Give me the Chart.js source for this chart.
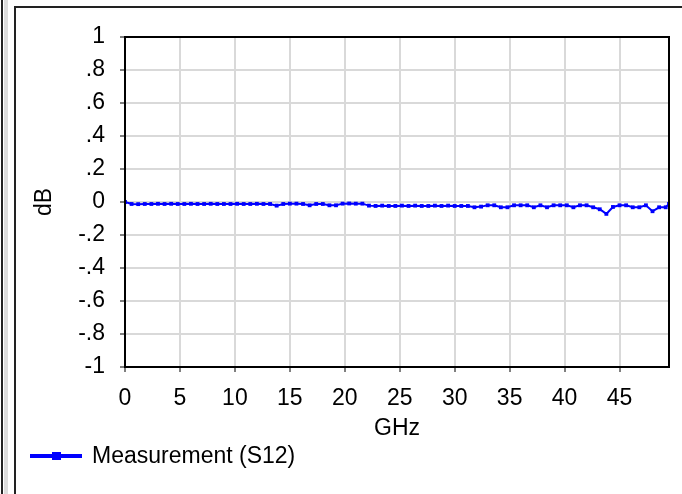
<!DOCTYPE html>
<html>
<head>
<meta charset="utf-8">
<script src="https://cdn.jsdelivr.net/npm/chart.js@4/dist/chart.umd.min.js"></script>
<style>
  html, body { margin: 0; padding: 0; background: #fff; overflow: hidden; }
  canvas { display: block; }
</style>
</head>
<body>
<canvas id="grafico" width="682" height="494"></canvas>
<script>
// ===== DADOS =====
const freqGHz = [
  0, 0.6, 1.2, 1.8, 2.4, 3, 3.6, 4.2, 4.8, 5.4,
  6, 6.6, 7.2, 7.8, 8.4, 9, 9.6, 10.2, 10.8, 11.4,
  12, 12.6, 13.2, 13.8, 14.4, 15, 15.6, 16.2, 16.8, 17.4,
  18, 18.6, 19.2, 19.8, 20.4, 21, 21.6, 22.2, 22.8, 23.4,
  24, 24.6, 25.2, 25.8, 26.4, 27, 27.6, 28.2, 28.8, 29.4,
  30, 30.6, 31.2, 31.8, 32.4, 33, 33.6, 34.2, 34.8, 35.4,
  36, 36.6, 37.2, 37.8, 38.4, 39, 39.6, 40.2, 40.8, 41.4,
  42, 42.6, 43.2, 43.8, 44.4, 45, 45.6, 46.2, 46.8, 47.4,
  48, 48.6, 49.2, 49.5
];
const s12dB = [
  0, -0.012, -0.013, -0.012, -0.012, -0.011, -0.012, -0.011, -0.012, -0.012,
  -0.011, -0.012, -0.012, -0.011, -0.012, -0.012, -0.012, -0.011, -0.012, -0.012,
  -0.011, -0.012, -0.012, -0.022, -0.012, -0.01, -0.01, -0.012, -0.02, -0.012,
  -0.012, -0.02, -0.02, -0.01, -0.009, -0.01, -0.01, -0.022, -0.024, -0.022,
  -0.024, -0.024, -0.022, -0.024, -0.022, -0.024, -0.024, -0.022, -0.024, -0.022,
  -0.024, -0.024, -0.024, -0.032, -0.028, -0.02, -0.02, -0.032, -0.032, -0.02,
  -0.02, -0.02, -0.032, -0.02, -0.032, -0.02, -0.02, -0.02, -0.032, -0.02,
  -0.02, -0.032, -0.044, -0.072, -0.03, -0.02, -0.02, -0.032, -0.032, -0.02,
  -0.056, -0.032, -0.032, -0.012
];
const serieNome = "Measurement (S12)";
const eixoX = { titulo: "GHz", min: 0, max: 49.5, passo: 5 };
const eixoY = { titulo: "dB", min: -1, max: 1, passo: 0.2 };

// ===== ESTILO =====
const FONTE = "'Liberation Sans', Arial, sans-serif";
const TAM = 23;
const AZUL = "#0000ff";
const CINZA = "#d9d9d9";

// ===== PLUGINS =====
const moldura = {
  id: "moldura",
  beforeDraw(chart) {
    const ctx = chart.ctx;
    ctx.save();
    ctx.fillStyle = "#fff";
    ctx.fillRect(0, 0, chart.width, chart.height);
    ctx.fillStyle = "#dcdcdc";
    ctx.fillRect(4, 0, 4, chart.height);
    ctx.strokeStyle = "#222";
    ctx.lineWidth = 2;
    ctx.beginPath();
    ctx.moveTo(2, 0); ctx.lineTo(2, chart.height);
    ctx.moveTo(15, chart.height); ctx.lineTo(15, 7); ctx.lineTo(chart.width, 7);
    ctx.stroke();
    ctx.restore();
  },
  afterDraw(chart) {
    const ctx = chart.ctx;
    const a = chart.chartArea;
    ctx.save();
    ctx.strokeStyle = "#000";
    ctx.lineWidth = 2;
    ctx.strokeRect(a.left, a.top, a.right - a.left, a.bottom - a.top);

    // legenda
    const y = 456;
    ctx.strokeStyle = AZUL;
    ctx.lineWidth = 4;
    ctx.beginPath();
    ctx.moveTo(30, y); ctx.lineTo(82, y);
    ctx.stroke();
    ctx.fillStyle = AZUL;
    ctx.fillRect(52, y - 4, 9, 8);
    ctx.fillStyle = "#000";
    ctx.font = TAM + "px " + FONTE;
    ctx.textBaseline = "middle";
    ctx.fillText(serieNome, 92, y + 1);
    ctx.restore();
  }
};

// ===== GRÁFICO =====
const rotuloY = v => {
  const r = Math.round(v * 10) / 10;
  return r.toString().replace("0.", ".");
};

new Chart(document.getElementById("grafico"), {
  type: "line",
  data: {
    datasets: [{
      label: serieNome,
      data: freqGHz.map((f, i) => ({ x: f, y: s12dB[i] })),
      borderColor: AZUL,
      backgroundColor: AZUL,
      borderWidth: 2,
      pointStyle: "rect",
      pointRadius: 2.7,
      pointBorderWidth: 0,
      tension: 0
    }]
  },
  options: {
    responsive: false,
    animation: false,
    layout: { padding: { left: 20, top: 37, right: 13, bottom: 52 } },
    plugins: { legend: { display: false }, tooltip: { enabled: false } },
    scales: {
      x: {
        type: "linear",
        min: eixoX.min,
        max: eixoX.max,
        afterBuildTicks: s => { s.ticks = s.ticks.filter(t => t.value % eixoX.passo === 0); },
        afterFit: s => { s.height = 75; },
        ticks: { stepSize: eixoX.passo, includeBounds: false, color: "#000", padding: 13, maxRotation: 0, font: { family: FONTE, size: TAM } },
        grid: { color: CINZA, lineWidth: 2, tickColor: "#000", tickLength: 5, tickWidth: 1 },
        border: { color: "#000", width: 2 },
        title: { display: true, text: eixoX.titulo, color: "#000", padding: { top: 0, bottom: 0 }, font: { family: FONTE, size: TAM } }
      },
      y: {
        min: eixoY.min,
        max: eixoY.max,
        afterFit: s => { s.width = 105; },
        ticks: { stepSize: eixoY.passo, color: "#000", padding: 15, callback: rotuloY, font: { family: FONTE, size: TAM } },
        grid: { color: CINZA, lineWidth: 2, tickColor: "#000", tickLength: 5, tickWidth: 1 },
        border: { color: "#000", width: 2 },
        title: { display: true, text: eixoY.titulo, color: "#000", padding: { top: 11, bottom: 0 }, font: { family: FONTE, size: TAM } }
      }
    }
  },
  plugins: [moldura]
});
</script>
</body>
</html>
